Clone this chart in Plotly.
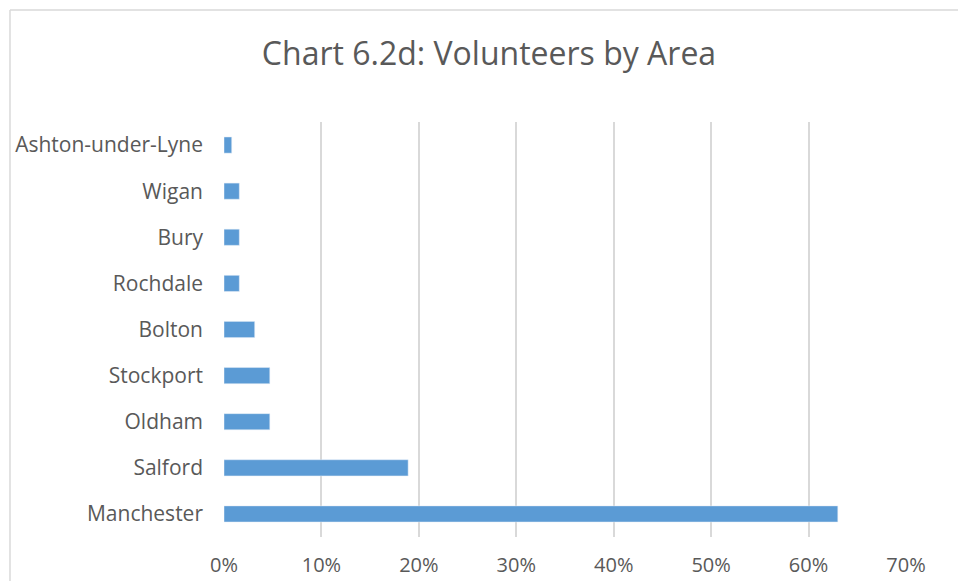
import plotly.graph_objects as go

areas = ["Manchester", "Salford", "Oldham", "Stockport", "Bolton",
         "Rochdale", "Bury", "Wigan", "Ashton-under-Lyne"]
share = [0.630, 0.189, 0.047, 0.047, 0.0315, 0.0157, 0.0157, 0.0157, 0.0079]
tick_vals = [0, 0.1, 0.2, 0.3, 0.4, 0.5, 0.6, 0.7]
tick_text = ["0%", "10%", "20%", "30%", "40%", "50%", "60%", "70%"]

FONT = "Open Sans, Calibri, sans-serif"
GREY = "#595959"
GRID = "#d9d9d9"

fig = go.Figure(go.Bar(
    x=share,
    y=areas,
    orientation='h',
    marker_color="#5b9bd5",
    width=0.35,
    hoverinfo="x+y"
))

# chart frame (cropped on right and bottom)
fig.add_shape(type="line", xref="paper", yref="paper",
              x0=-0.3138, x1=1.2, y0=1.2699, y1=1.2699,
              line=dict(color=GRID, width=1.5))
fig.add_shape(type="line", xref="paper", yref="paper",
              x0=-0.3138, x1=-0.3138, y0=1.2699, y1=-0.2,
              line=dict(color=GRID, width=1.5))

fig.update_layout(
    width=958,
    height=581,
    margin=dict(l=224, r=52, t=122, b=44),
    title=dict(text="Chart 6.2d: Volunteers by Area", x=489 / 958, xref="container",
               xanchor="center", y=1 - 54 / 581, yanchor="middle",
               font=dict(family=FONT, size=32, color=GREY)),
    xaxis=dict(range=[0, 0.7], tickvals=tick_vals, ticktext=tick_text,
               showgrid=True, gridcolor=GRID, gridwidth=1.5,
               zeroline=False, showline=False, ticks="",
               ticklabelstandoff=14, automargin=False,
               tickfont=dict(family=FONT, size=20, color=GREY)),
    yaxis=dict(showgrid=False, zeroline=False, showline=False, ticks="",
               ticklabelstandoff=20, automargin=False,
               tickfont=dict(family=FONT, size=21, color=GREY)),
    showlegend=False,
    plot_bgcolor='white',
    paper_bgcolor='white'
)

fig.write_html("out.html", config={"displayModeBar": False},
               post_script="document.body.style.margin='0';document.body.style.overflow='hidden';")
